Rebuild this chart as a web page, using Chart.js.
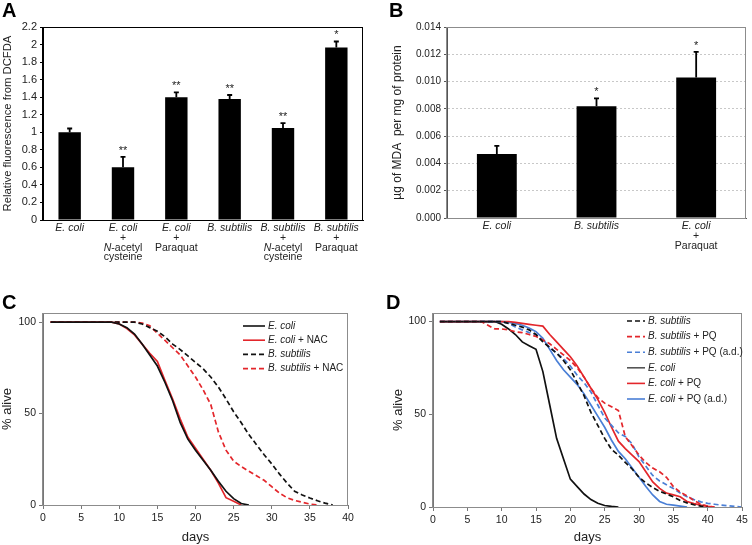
<!DOCTYPE html>
<html>
<head>
<meta charset="utf-8">
<script src="https://cdn.jsdelivr.net/npm/chart.js@4.4.1/dist/chart.umd.min.js"></script>
<style>
  body { margin: 0; background: #fff; width: 752px; height: 545px; position: relative; overflow: hidden; }
  .panel { position: absolute; width: 376px; }
  .letter { position: absolute; font: bold 20px/20px "Liberation Sans", Arial, sans-serif; color: #000; }
</style>
</head>
<body>
<div class="panel" style="left:0;top:0;height:272px"><canvas id="chartA"></canvas></div>
<div class="panel" style="left:376px;top:0;height:272px"><canvas id="chartB"></canvas></div>
<div class="panel" style="left:0;top:272px;height:273px"><canvas id="chartC"></canvas></div>
<div class="panel" style="left:376px;top:272px;height:273px"><canvas id="chartD"></canvas></div>
<div class="letter" style="left:2px;top:0">A</div>
<div class="letter" style="left:389px;top:0">B</div>
<div class="letter" style="left:2px;top:292px">C</div>
<div class="letter" style="left:386px;top:292px">D</div>
<script>
const FAMILY = '"Liberation Sans", Arial, sans-serif';

// Panel A - DCFDA fluorescence
const labelsA = [
  ['_E. coli_'],
  ['_E. coli_', '+', '_N_-acetyl', 'cysteine'],
  ['_E. coli_', '+', 'Paraquat'],
  ['_B. subtilis_'],
  ['_B. subtilis_', '+', '_N_-acetyl', 'cysteine'],
  ['_B. subtilis_', '+', 'Paraquat']
];
const valuesA = [1.0, 0.6, 1.4, 1.38, 1.05, 1.965];
const errorsA = [0.043, 0.12, 0.055, 0.045, 0.055, 0.07];
const starsA = ['', '**', '**', '**', '**', '*'];
const yTicksA = [0, 0.2, 0.4, 0.6, 0.8, 1, 1.2, 1.4, 1.6, 1.8, 2, 2.2];

// Panel B - MDA
const labelsB = [
  ['_E. coli_'],
  ['_B. subtilis_'],
  ['_E. coli_', '+', 'Paraquat']
];
const valuesB = [0.0047, 0.0082, 0.0103];
const errorsB = [0.00058, 0.00057, 0.00187];
const starsB = ['', '*', '*'];
const yTicksB = [0, 0.002, 0.004, 0.006, 0.008, 0.010, 0.012, 0.014];

// survival curves, value i belongs to day days[i]
const days = [1, 2, 3, 4, 5, 6, 7, 8, 9, 10, 11, 12, 13, 14, 15, 16, 17, 18, 19, 20,
  21, 22, 23, 24, 25, 26, 27, 28, 29, 30, 31, 32, 33, 34, 35, 36, 37, 38, 39, 40,
  41, 42, 43, 44, 45];

// Panel C
const ecoliC = [100, 100, 100, 100, 100, 100, 100, 100, 100, 99, 97, 93.5, 88, 82, 76, 67, 57, 45, 36, 30,
  24.5, 19, 13, 7.5, 3.5, 0.8, 0];
const ecoliNacC = [100, 100, 100, 100, 100, 100, 100, 100, 100, 99, 96.5, 93, 88, 83, 78.5, 68, 58, 47, 37, 31,
  25, 19, 12, 4, 2, 0];
const bsubC = [100, 100, 100, 100, 100, 100, 100, 100, 100, 100, 100, 100, 99, 97, 95, 92, 88, 85, 81.5, 78,
  74.5, 70, 64.5, 58, 51, 45, 38.5, 33, 27.5, 22.5, 17, 12, 7.5, 5.5, 3.8, 2.3, 1, 0];
const bsubNacC = [100, 100, 100, 100, 100, 100, 100, 100, 100, 100, 100, 100, 99.5, 98, 94, 90, 86, 82, 76, 70,
  63, 55, 40, 30, 24, 21, 18.5, 16, 13.5, 10, 6.5, 4, 2.5, 1.5, 0.5, 0];
const namesC = ['_E. coli_', '_E. coli_ + NAC', '_B. subtilis_', '_B. subtilis_ + NAC'];
const xTicksC = [0, 5, 10, 15, 20, 25, 30, 35, 40];

// Panel D
const bsubD = [100, 100, 100, 100, 100, 100, 100, 100, 100, 100, 99, 98, 97, 95.5, 93, 89, 86, 83, 79, 74,
  67, 60, 51, 44, 37, 31, 28, 24, 20.5, 16, 13, 10.5, 8.5, 7, 5.5, 3.5, 2.2, 1.2, 0.5, 0];
const bsubPqD = [100, 100, 100, 100, 100, 100, 100, 98, 96, 96, 95.5, 94.5, 94, 93, 92, 90, 88, 85, 82, 79,
  75, 70, 64, 59, 56, 54, 52, 38, 33, 28, 24, 21, 19, 16, 11, 8, 6, 3.5, 1.5, 0.5, 0];
const bsubPqAdD = [100, 100, 100, 100, 100, 100, 100, 100, 100, 100, 99, 97, 95.5, 94, 93, 90, 86, 83, 80, 76,
  71, 67, 62, 55, 48, 44, 40, 38, 34, 27, 22, 17, 14, 12, 10, 7.5, 5.5, 4, 2.8, 2, 1.5, 1, 0.7, 0.3, 0];
const ecoliD = [100, 100, 100, 100, 100, 100, 100, 100, 100, 98.5, 96, 93, 89, 87, 85, 73, 55, 37, 26, 15,
  11, 7, 4, 2, 0.8, 0.3, 0];
const ecoliPqD = [100, 100, 100, 100, 100, 100, 100, 100, 100, 100, 100, 99.5, 99, 98.5, 98, 97.5, 93, 89, 85, 81,
  76, 70, 64, 58, 51, 43, 35.5, 31.5, 28, 24.5, 19, 13.5, 10, 7.5, 6.5, 5.5, 3, 1.8, 1, 0.3, 0];
const ecoliPqAdD = [100, 100, 100, 100, 100, 100, 100, 100, 100, 100, 99.5, 99, 98, 96.5, 94.5, 91, 85, 79, 74, 70,
  66, 61, 55, 49, 43, 36, 30, 26, 21, 16, 11, 6.5, 3, 1.5, 1, 0.5, 0];
const namesD = ['_B. subtilis_', '_B. subtilis_ + PQ', '_B. subtilis_ + PQ (a.d.)',
  '_E. coli_', '_E. coli_ + PQ', '_E. coli_ + PQ (a.d.)'];
const xTicksD = [0, 5, 10, 15, 20, 25, 30, 35, 40, 45];
const yTicksSurv = [0, 50, 100];

const RED = '#e3262b';
const BLUE = '#4a7fd6';
const BLACK = '#111';

Chart.defaults.font.family = FAMILY;
Chart.defaults.color = '#222';
Chart.defaults.animation = false;

// text with _italic_ parts
function drawRich(ctx, text, x, y, align, size) {
  const parts = text.split('_');
  const fonts = parts.map((p, k) => (k % 2 ? 'italic ' : '') + size + 'px ' + FAMILY);
  let w = 0;
  parts.forEach((p, k) => { ctx.font = fonts[k]; w += ctx.measureText(p).width; });
  let cx = align === 'center' ? x - w / 2 : x;
  ctx.textAlign = 'left';
  parts.forEach((p, k) => {
    ctx.font = fonts[k];
    ctx.fillText(p, cx, y);
    cx += ctx.measureText(p).width;
  });
}

function framePlugin(color) {
  return {
    id: 'frame',
    afterDatasetsDraw(chart) {
      const a = chart.chartArea, ctx = chart.ctx;
      ctx.save();
      ctx.strokeStyle = color;
      ctx.lineWidth = 1;
      ctx.strokeRect(Math.round(a.left) - 0.5, Math.round(a.top) + 0.5,
        Math.round(a.right - a.left), Math.round(a.bottom - a.top));
      ctx.restore();
    }
  };
}

function errorBarPlugin(errors, stars) {
  return {
    id: 'errorBars',
    afterDatasetsDraw(chart) {
      const ctx = chart.ctx, ys = chart.scales.y;
      const ds = chart.data.datasets[0];
      ctx.save();
      chart.getDatasetMeta(0).data.forEach((bar, i) => {
        const top = ys.getPixelForValue(ds.data[i] + errors[i]);
        ctx.strokeStyle = '#000';
        ctx.lineWidth = 1.8;
        ctx.beginPath();
        ctx.moveTo(bar.x, bar.y);
        ctx.lineTo(bar.x, top);
        ctx.moveTo(bar.x - 2.5, top);
        ctx.lineTo(bar.x + 2.5, top);
        ctx.stroke();
        if (stars[i]) {
          ctx.fillStyle = '#222';
          ctx.font = '11px ' + FAMILY;
          ctx.textAlign = 'center';
          ctx.textBaseline = 'alphabetic';
          ctx.fillText(stars[i], bar.x, top - 3);
        }
      });
      ctx.restore();
    }
  };
}

function richLabelsPlugin(labels) {
  return {
    id: 'richLabels',
    afterDraw(chart) {
      const ctx = chart.ctx, xs = chart.scales.x;
      ctx.save();
      ctx.fillStyle = '#222';
      ctx.textBaseline = 'middle';
      labels.forEach((lines, i) => {
        const x = xs.getPixelForValue(i);
        lines.forEach((line, j) => drawRich(ctx, line, x, xs.top + 8.5 + j * 9.7, 'center', 10.5));
      });
      ctx.restore();
    }
  };
}

function legendPlugin(names, styles, box) {
  return {
    id: 'boxLegend',
    afterDraw(chart) {
      const ctx = chart.ctx;
      ctx.save();
      names.forEach((name, i) => {
        const y = box.y + i * box.step;
        ctx.strokeStyle = styles[i].legendColor || styles[i].color;
        ctx.lineWidth = 1.6;
        ctx.setLineDash(styles[i].dash);
        ctx.beginPath();
        ctx.moveTo(box.x, y);
        ctx.lineTo(box.x + box.len, y);
        ctx.stroke();
        ctx.setLineDash([]);
        ctx.fillStyle = '#222';
        ctx.textBaseline = 'middle';
        drawRich(ctx, name, box.x + box.len + 3, y, 'left', 10);
      });
      ctx.restore();
    }
  };
}

function barChart(id, labels, values, errors, stars, opts) {
  return new Chart(document.getElementById(id), {
    type: 'bar',
    data: {
      labels: labels,
      datasets: [{
        data: values,
        backgroundColor: '#000',
        borderWidth: 0,
        categoryPercentage: 1,
        barPercentage: opts.barPct
      }]
    },
    options: {
      responsive: true,
      maintainAspectRatio: false,
      layout: { padding: opts.padding },
      plugins: { legend: { display: false }, tooltip: { enabled: false } },
      scales: {
        x: {
          afterFit: s => { s.height = opts.xHeight; },
          ticks: { display: false },
          grid: { display: false },
          border: { color: opts.axisColor }
        },
        y: {
          min: 0,
          max: opts.max,
          afterBuildTicks: s => { s.ticks = opts.ticks.map(v => ({ value: v })); },
          afterFit: s => { s.width = opts.yWidth; },
          ticks: { font: { size: opts.tickSize }, padding: 3, callback: opts.format },
          grid: {
            drawOnChartArea: opts.gridLines,
            color: '#c8c8c8',
            tickColor: opts.axisColor,
            tickLength: 3,
            tickBorderDash: []
          },
          border: { color: opts.axisColor, dash: opts.gridLines ? [2, 2] : [] },
          title: { display: true, text: opts.title, font: { size: opts.titleSize }, padding: 0 }
        }
      }
    },
    plugins: [framePlugin(opts.frameColor), errorBarPlugin(errors, stars), richLabelsPlugin(labels)]
  });
}

function survivalChart(id, series, styles, names, opts) {
  return new Chart(document.getElementById(id), {
    type: 'line',
    data: {
      datasets: series.map((vals, k) => ({
        data: vals.map((v, i) => ({ x: days[i], y: v })),
        borderColor: styles[k].color,
        borderDash: styles[k].dash,
        borderWidth: 1.7,
        pointRadius: 0,
        tension: 0,
        fill: false
      }))
    },
    options: {
      responsive: true,
      maintainAspectRatio: false,
      layout: { padding: opts.padding },
      plugins: { legend: { display: false }, tooltip: { enabled: false } },
      scales: {
        x: {
          type: 'linear',
          min: 0,
          max: opts.xMax,
          afterBuildTicks: s => { s.ticks = opts.xTicks.map(v => ({ value: v })); },
          afterFit: s => { s.height = opts.xHeight; },
          ticks: { font: { size: 10.5 }, padding: 3 },
          grid: { drawOnChartArea: false, color: '#777', tickLength: 4 },
          border: { color: '#777' },
          title: { display: true, text: 'days', font: { size: 13 }, padding: 0 }
        },
        y: {
          min: 0,
          max: opts.yMax,
          afterBuildTicks: s => { s.ticks = yTicksSurv.map(v => ({ value: v })); },
          afterFit: s => { s.width = opts.yWidth; },
          ticks: { font: { size: 10.5 }, padding: 3 },
          grid: { drawOnChartArea: false, color: '#777', tickLength: 4 },
          border: { color: '#777' },
          title: { display: true, text: '% alive', font: { size: 13 }, padding: 0 }
        }
      }
    },
    plugins: [framePlugin('#8c8c8c'), legendPlugin(names, styles, opts.legend)]
  });
}

barChart('chartA', labelsA, valuesA, errorsA, starsA, {
  padding: { left: 1, top: 27, right: 13, bottom: 0 },
  yWidth: 42, xHeight: 52, max: 2.2, ticks: yTicksA, tickSize: 11,
  barPct: 0.42, gridLines: false, axisColor: '#000', frameColor: '#000',
  title: 'Relative fluorescence from DCFDA', titleSize: 11.3
});

barChart('chartB', labelsB, valuesB, errorsB, starsB, {
  padding: { left: 14, top: 27, right: 6, bottom: 0 },
  yWidth: 57, xHeight: 54, max: 0.014, ticks: yTicksB, tickSize: 10,
  format: v => v.toFixed(3),
  barPct: 0.4, gridLines: true, axisColor: '#555', frameColor: '#8c8c8c',
  title: 'µg of MDA  per mg of protein', titleSize: 12
});

const stylesC = [
  { color: BLACK, dash: [] },
  { color: RED, dash: [] },
  { color: BLACK, dash: [5, 3] },
  { color: RED, dash: [5, 3] }
];
survivalChart('chartC', [ecoliC, ecoliNacC, bsubC, bsubNacC], stylesC, namesC, {
  padding: { left: 0, top: 41, right: 28, bottom: 0 },
  yWidth: 43, xHeight: 40, xMax: 40, yMax: 105, xTicks: xTicksC,
  legend: { x: 243, y: 54, step: 14.2, len: 22 }
});

const stylesD = [
  { color: BLACK, dash: [5, 3] },
  { color: RED, dash: [5, 3] },
  { color: BLUE, dash: [5, 3] },
  { color: BLACK, dash: [], legendColor: '#555' },
  { color: RED, dash: [] },
  { color: BLUE, dash: [] }
];
survivalChart('chartD', [bsubD, bsubPqD, bsubPqAdD, ecoliD, ecoliPqD, ecoliPqAdD], stylesD, namesD, {
  padding: { left: 15, top: 41, right: 10, bottom: 0 },
  yWidth: 42, xHeight: 38, xMax: 45, yMax: 104.6, xTicks: xTicksD,
  legend: { x: 251, y: 49, step: 15.6, len: 18 }
});
</script>
</body>
</html>
